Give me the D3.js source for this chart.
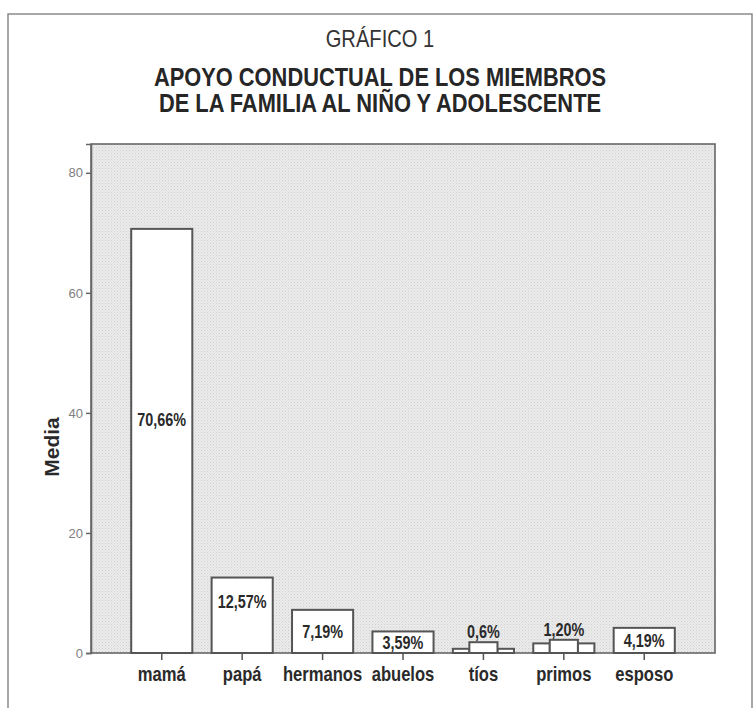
<!DOCTYPE html>
<html>
<head>
<meta charset="utf-8">
<script src="https://cdn.jsdelivr.net/npm/d3@7/dist/d3.min.js"></script>
<style>
  html, body { margin: 0; padding: 0; background: #ffffff; }
  svg { display: block; }
</style>
</head>
<body>
<script>
// ---- data ----
const categories = ["mamá", "papá", "hermanos", "abuelos", "tíos", "primos", "esposo"];
const barValues = [70.66, 12.57, 7.19, 3.59, 1.8, 2.2, 4.19];
const shoulderValues = [0, 0, 0, 0, 0.7, 1.6, 0];
const valueLabels = ["70,66%", "12,57%", "7,19%", "3,59%", "0,6%", "1,20%", "4,19%"];
const yTicks = [0, 20, 40, 60, 80];
const supTitle = "GRÁFICO 1";
const titleLines = ["APOYO CONDUCTUAL DE LOS MIEMBROS", "DE LA FAMILIA AL NIÑO Y ADOLESCENTE"];
const yAxisTitle = "Media";

// ---- layout ----
const W = 754, H = 708;
const plot = { left: 91, right: 715, top: 144, bottom: 653 };
const FONT = "'Liberation Sans', Arial, sans-serif";
const NARROW = 0.84;

const svg = d3.select("body").append("svg").attr("width", W).attr("height", H);

// stipple pattern for the plot background
const defs = svg.append("defs");
const pat = defs.append("pattern").attr("id", "stipple").attr("width", 3).attr("height", 3)
  .attr("patternUnits", "userSpaceOnUse");
pat.append("rect").attr("width", 3).attr("height", 3).attr("fill", "#ebebeb");
pat.append("rect").attr("x", 0).attr("y", 0).attr("width", 1).attr("height", 1).attr("fill", "#cfcfcf");
pat.append("rect").attr("x", 1.5).attr("y", 1.5).attr("width", 1).attr("height", 1).attr("fill", "#d8d8d8");

// outer frame
svg.append("path")
  .attr("d", `M8,${H} L8,14 L752,14 L752,${H}`)
  .attr("fill", "none").attr("stroke", "#8a8a8a").attr("stroke-width", 1.5);

function narrowText(g, x, y, str, opts) {
  const t = g.append("g").attr("transform", `translate(${x},${y}) scale(${opts.sx || NARROW},1)`)
    .append("text")
    .attr("text-anchor", opts.anchor || "middle")
    .attr("font-family", FONT)
    .attr("font-size", opts.size)
    .attr("font-weight", opts.weight || "normal")
    .attr("fill", opts.fill || "#262626")
    .text(str);
  if (opts.dy) t.attr("dy", opts.dy);
  return t;
}

// titles
narrowText(svg, 380, 47, supTitle, { size: 24, fill: "#333" });
titleLines.forEach((s, i) => narrowText(svg, 380, 86 + i * 26, s, { size: 25, sx: 0.874, weight: "bold", fill: "#262626" }));

// scales
const y = d3.scaleLinear().domain([0, 84.8]).range([plot.bottom, plot.top]);
const x = d3.scaleBand().domain(categories).range([plot.left, plot.right])
  .paddingInner(0.24).paddingOuter(0.5);

// plot background
svg.append("rect")
  .attr("x", plot.left).attr("y", plot.top)
  .attr("width", plot.right - plot.left).attr("height", plot.bottom - plot.top)
  .attr("fill", "url(#stipple)").attr("stroke", "#666").attr("stroke-width", 1.6);

// bars
const barG = svg.append("g");
const bw = x.bandwidth();
categories.forEach((c, i) => {
  const x0 = x(c);
  const sv = shoulderValues[i];
  const style = sel => sel.attr("fill", "#ffffff").attr("stroke", "#555").attr("stroke-width", 2);
  if (sv > 0) {
    const sw = bw * 0.27;
    style(barG.append("rect").attr("x", x0).attr("y", y(sv)).attr("width", sw).attr("height", y(0) - y(sv)));
    style(barG.append("rect").attr("x", x0 + bw - sw).attr("y", y(sv)).attr("width", sw).attr("height", y(0) - y(sv)));
    style(barG.append("rect").attr("x", x0 + sw).attr("y", y(barValues[i])).attr("width", bw - 2 * sw).attr("height", y(0) - y(barValues[i])));
  } else {
    style(barG.append("rect").attr("x", x0).attr("y", y(barValues[i])).attr("width", bw).attr("height", y(0) - y(barValues[i])));
  }
});

// value labels
categories.forEach((c, i) => {
  const v = barValues[i];
  const top = y(v), h = y(0) - top;
  const cx = x(c) + bw / 2;
  let cy, dy = "0.36em";
  if (h < 20) { cy = top - 4; dy = null; }
  else if (v > 40) cy = top + h * 0.45;
  else cy = Math.min(top + h / 2, top + 24);
  narrowText(svg, cx, cy, valueLabels[i], { size: 18, sx: 0.8, weight: "bold", fill: "#2a2a2a", dy: dy });
});

// y axis
const yAxis = svg.append("g").attr("transform", `translate(${plot.left},0)`)
  .call(d3.axisLeft(y).tickValues(yTicks).tickSize(5).tickPadding(3).tickFormat(d3.format("d")));
yAxis.select(".domain").attr("stroke", "#666").attr("stroke-width", 1.6);
yAxis.selectAll(".tick line").attr("stroke", "#666").attr("stroke-width", 1.5);
yAxis.selectAll(".tick text").attr("font-family", FONT).attr("font-size", 13).attr("fill", "#808080");

// x axis
const xAxis = svg.append("g").attr("transform", `translate(0,${plot.bottom})`)
  .call(d3.axisBottom(x).tickSize(7).tickFormat(""));
xAxis.select(".domain").remove();
xAxis.selectAll(".tick line").attr("stroke", "#555").attr("stroke-width", 1.5);
categories.forEach(c => {
  narrowText(svg, x(c) + bw / 2, 681, c, { size: 20, sx: 0.83, weight: "bold", fill: "#2a2a2a" });
});

// y title
svg.append("text")
  .attr("transform", `translate(59,447) rotate(-90)`)
  .attr("text-anchor", "middle")
  .attr("font-family", FONT).attr("font-size", 21).attr("font-weight", "bold").attr("fill", "#2a2a2a")
  .text(yAxisTitle);
</script>
</body>
</html>
